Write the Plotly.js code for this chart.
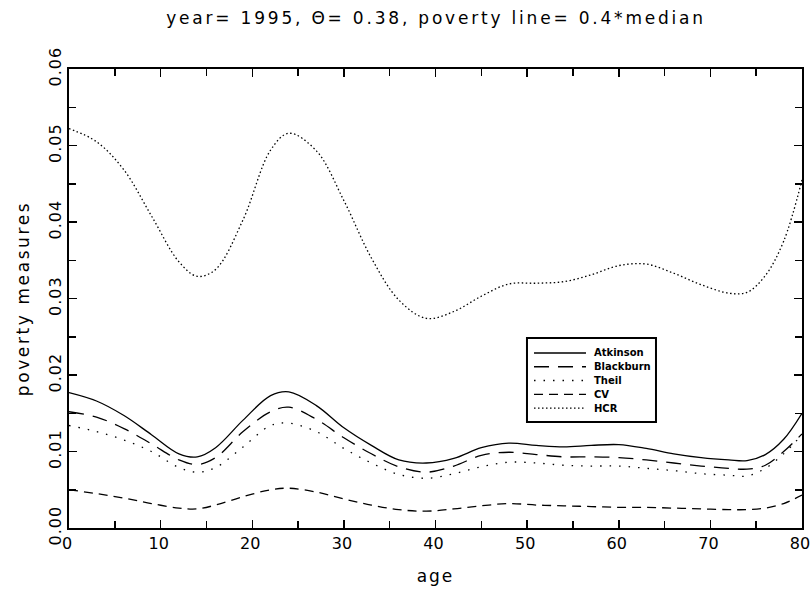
<!DOCTYPE html>
<html>
<head>
<meta charset="utf-8">
<script src="https://cdn.plot.ly/plotly-3.0.1.min.js"></script>
<style>
html,body{margin:0;padding:0;background:#fff;}
#chart{width:812px;height:589px;}
#chart .gtitle{letter-spacing:2.8px;}
#chart .ytitle{letter-spacing:2.6px;}
#chart .xtitle{letter-spacing:2px;}
#chart .ytick text{letter-spacing:1px;}
</style>
</head>
<body>
<div id="chart"></div>
<script>
const ages = [0,3,6,9,12,14,16,19,22,24,27,30,33,36,39,42,45,48,51,54,57,60,63,66,69,72,74,76,78,80];
const atkinson = [0.0177,0.0166,0.0147,0.0122,0.0097,0.0093,0.0105,0.0141,0.0173,0.0178,0.0160,0.0131,0.0108,0.0089,0.0085,0.0091,0.0105,0.0111,0.0108,0.0106,0.0108,0.0109,0.0104,0.0097,0.0092,0.0089,0.0088,0.0096,0.0116,0.0150];
const blackburn = [0.0152,0.0145,0.0130,0.0110,0.0089,0.0083,0.0092,0.0126,0.0152,0.0158,0.0142,0.0118,0.0097,0.0080,0.0073,0.0081,0.0095,0.0099,0.0096,0.0093,0.0093,0.0092,0.0089,0.0085,0.0081,0.0078,0.0077,0.0082,0.0100,0.0123];
const theil = [0.0134,0.0126,0.0115,0.0100,0.0079,0.0073,0.0079,0.0106,0.0134,0.0137,0.0126,0.0104,0.0085,0.0070,0.0065,0.0071,0.0080,0.0086,0.0085,0.0082,0.0081,0.0081,0.0078,0.0075,0.0071,0.0069,0.0068,0.0078,0.0097,0.0122];
const cv = [0.0050,0.0045,0.0039,0.0032,0.0026,0.0025,0.0030,0.0041,0.0050,0.0052,0.0047,0.0038,0.0030,0.0024,0.0022,0.0025,0.0029,0.0032,0.0030,0.0029,0.0028,0.0027,0.0027,0.0026,0.0025,0.0024,0.0024,0.0026,0.0032,0.0043];
const hcr = [0.0522,0.0505,0.0468,0.0408,0.0348,0.0329,0.0338,0.0403,0.0494,0.0516,0.0493,0.0428,0.0353,0.0298,0.0274,0.0283,0.0303,0.0319,0.0320,0.0322,0.0331,0.0343,0.0345,0.0333,0.0318,0.0307,0.0308,0.0330,0.0375,0.0455];
const seriesNames = ["Atkinson","Blackburn","Theil","CV","HCR"];
const xTicks = [0,10,20,30,40,50,60,70,80];
const yTicks = [0.00,0.01,0.02,0.03,0.04,0.05,0.06];
const yTickText = ["0.00","0.01","0.02","0.03","0.04","0.05","0.06"];

const seriesValues = [atkinson, blackburn, theil, cv, hcr];
const dashes = ["solid","15px,9px","1.5px,8px","9px,6px","1.5px,2.5px"];

const traces = seriesNames.map((n, i) => ({
  x: ages, y: seriesValues[i], name: n, type: "scatter", mode: "lines", showlegend: false,
  line: {color: "#000", width: 1.3, dash: dashes[i], shape: "spline", smoothing: 1}
}));

// custom legend box (paper coordinates)
const lg = {x0: 0.6248, x1: 0.8008, y0: 0.2309, y1: 0.4139, lx0: 0.6344, lx1: 0.7053, tx: 0.7135, rowTop: 0.3813, rowStep: 0.0300};
const shapes = [{type: "rect", xref: "paper", yref: "paper", x0: lg.x0, x1: lg.x1, y0: lg.y0, y1: lg.y1,
                 line: {color: "#000", width: 2}, fillcolor: "#fff", layer: "above"}];
const annotations = [];
seriesNames.forEach((n, i) => {
  const yy = lg.rowTop - i * lg.rowStep;
  shapes.push({type: "line", xref: "paper", yref: "paper", x0: lg.lx0, x1: lg.lx1, y0: yy, y1: yy,
               line: {color: "#000", width: 1.3, dash: dashes[i]}, layer: "above"});
  annotations.push({xref: "paper", yref: "paper", x: lg.tx, y: yy, xanchor: "left", yanchor: "middle", showarrow: false,
                    text: n, font: {family: "DejaVu Sans, sans-serif", size: 10, color: "#000", weight: "bold"}});
});

const fnt = "DejaVu Sans, Liberation Sans, sans-serif";
const layout = {
  width: 812, height: 589,
  margin: {l: 69, r: 10, t: 69, b: 61},
  paper_bgcolor: "#fff", plot_bgcolor: "#fff",
  title: {text: "year= 1995, \u0398= 0.38, poverty line= 0.4*median", x: 0.537, xanchor: "center", y: 0.97, yanchor: "middle",
          font: {family: fnt, size: 17, color: "#000"}},
  showlegend: false,
  shapes: shapes,
  annotations: annotations,
  xaxis: {range: [0, 80], tickvals: xTicks, ticks: "inside", ticklen: 8, tickwidth: 1.5, tickcolor: "#000",
          showline: true, linewidth: 2, linecolor: "#000", mirror: "ticks", showgrid: false, zeroline: false,
          ticklabeloverflow: "allow", ticklabelshift: -2,
          minor: {dtick: 5, tick0: 0, ticks: "inside", ticklen: 7, tickwidth: 1.5, tickcolor: "#000", showgrid: false},
          tickfont: {family: fnt, size: 16, color: "#000"},
          title: {text: "age", font: {family: fnt, size: 17, color: "#000"}, standoff: 18}},
  yaxis: {range: [0, 0.06], tickvals: yTicks, ticktext: yTickText, tickangle: -90, ticks: "inside", ticklen: 8, tickwidth: 1.5, tickcolor: "#000",
          showline: true, linewidth: 2, linecolor: "#000", mirror: "ticks", showgrid: false, zeroline: false,
          minor: {dtick: 0.005, tick0: 0, ticks: "inside", ticklen: 7, tickwidth: 1.5, tickcolor: "#000", showgrid: false},
          tickfont: {family: fnt, size: 16, color: "#000"},
          title: {text: "poverty measures", font: {family: fnt, size: 17, color: "#000"}, standoff: 12}}
};

Plotly.newPlot("chart", traces, layout, {displayModeBar: false, staticPlot: true});
</script>
</body>
</html>
